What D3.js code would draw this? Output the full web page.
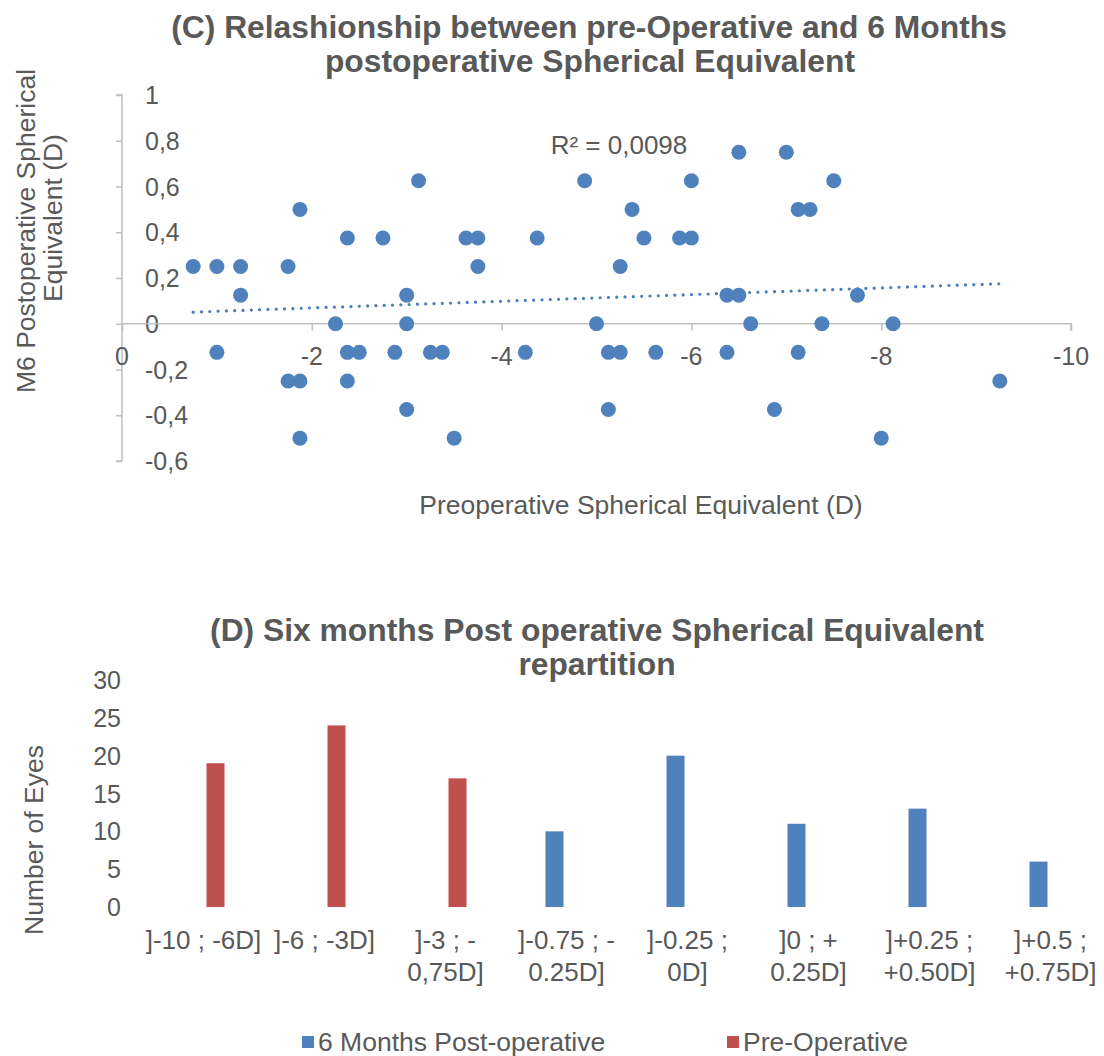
<!DOCTYPE html>
<html>
<head>
<meta charset="utf-8">
<script src="https://cdn.jsdelivr.net/npm/d3@7"></script>
<style>
  html, body { margin: 0; padding: 0; background: #ffffff; }
  svg text { font-family: "Liberation Sans", Arial, Helvetica, sans-serif; fill: #595959; }
</style>
</head>
<body>
<svg id="chart" width="1104" height="1056"></svg>
<script>
// ---------- Data: scatter (C) ----------
const preOpSE = [
  -0.75, -1.0, -1.25, -1.25, -1.75, -1.875, -2.375, -2.75, -3.125, -3.0,
  -2.25, -3.0, -1.0, -2.375, -2.5, -2.875, -3.25, -3.375, -1.75, -1.875,
  -2.375, -3.0, -1.875, -3.5, -3.625, -3.75, -3.75, -4.375, -4.875, -6.0,
  -5.375, -5.5, -5.875, -6.0, -5.25, -6.375, -6.5, -6.5, -5.0, -6.625,
  -4.25, -5.125, -5.25, -5.625, -6.375, -5.125, -6.875, -7.0, -7.5, -7.125,
  -7.25, -7.75, -7.375, -8.125, -7.125, -9.25, -8.0
];
const postOpSE = [
  0.25, 0.25, 0.25, 0.125, 0.25, 0.5, 0.375, 0.375, 0.625, 0.125,
  0, 0, -0.125, -0.125, -0.125, -0.125, -0.125, -0.125, -0.25, -0.25,
  -0.25, -0.375, -0.5, -0.5, 0.375, 0.375, 0.25, 0.375, 0.625, 0.625,
  0.5, 0.375, 0.375, 0.375, 0.25, 0.125, 0.125, 0.75, 0, 0,
  -0.125, -0.125, -0.125, -0.125, -0.125, -0.375, -0.375, 0.75, 0.625, 0.5,
  0.5, 0.125, 0, 0, -0.125, -0.25, -0.5
];
const trendX = [-0.75, -9.25];
const trendY = [0.051, 0.175];
const r2Label = "R² = 0,0098";
const scatterXTicks = [0, -2, -4, -6, -8, -10];
const scatterYTicks = [1, 0.8, 0.6, 0.4, 0.2, 0, -0.2, -0.4, -0.6];

// ---------- Data: bars (D) ----------
const categories = [
  ["]-10 ; -6D]"], ["]-6 ; -3D]"], ["]-3 ; -", "0,75D]"], ["]-0.75 ; -", "0.25D]"],
  ["]-0.25 ;", "0D]"], ["]0 ; +", "0.25D]"], ["]+0.25 ;", "+0.50D]"], ["]+0.5 ;", "+0.75D]"]
];
const seriesNames = ["6 Months Post-operative", "Pre-Operative"];
const postOpCounts = [0, 0, 0, 10, 20, 11, 13, 6];
const preOpCounts = [19, 24, 17, 0, 0, 0, 0, 0];
const barYTicks = [0, 5, 10, 15, 20, 25, 30];

const BLUE = "#4f81bd", RED = "#c0504d", AXIS = "#bfbfbf", TXT = "#595959";
const svg = d3.select("#chart");
const fmtComma = d => String(d).replace(".", ",");

// ================= Chart C =================
const gC = svg.append("g");
gC.append("text").attr("x", 589).attr("y", 38).attr("text-anchor", "middle")
  .attr("font-size", 31.8).attr("font-weight", "bold")
  .text("(C) Relashionship between pre-Operative and 6 Months");
gC.append("text").attr("x", 590).attr("y", 72).attr("text-anchor", "middle")
  .attr("font-size", 31.8).attr("font-weight", "bold")
  .text("postoperative Spherical Equivalent");

const xS = d3.scaleLinear().domain([0, -10]).range([122, 1071]);
const yS = d3.scaleLinear().domain([-0.6, 1]).range([461, 95]);

// y axis line + ticks
const yAxisG = gC.append("g").attr("transform", `translate(${xS(0)},0)`)
  .call(d3.axisLeft(yS).tickValues(scatterYTicks).tickSize(6).tickFormat(""));
yAxisG.select(".domain").attr("stroke", AXIS).attr("stroke-width", 1.5).attr("d", `M-6,${yS(1)}H0V${yS(-0.6)}H-6`);
yAxisG.selectAll(".tick line").attr("stroke", AXIS).attr("stroke-width", 1.5);
// y tick labels (to the right of the axis)
gC.selectAll(".ylab").data(scatterYTicks).enter().append("text")
  .attr("x", 145).attr("y", d => yS(d)).attr("dy", "0.36em")
  .attr("font-size", 25).text(fmtComma);

// x axis line + ticks at y=0
const xAxisG = gC.append("g").attr("transform", `translate(0,${yS(0)})`)
  .call(d3.axisBottom(xS).tickValues(scatterXTicks).tickSize(7).tickFormat(""));
xAxisG.select(".domain").attr("stroke", AXIS).attr("stroke-width", 1.5).attr("d", `M${xS(0)},0H${xS(-10)}V7`);
xAxisG.selectAll(".tick line").attr("stroke", AXIS).attr("stroke-width", 1.5);
gC.selectAll(".xlab").data(scatterXTicks).enter().append("text")
  .attr("x", d => xS(d)).attr("y", 356).attr("dy", "0.36em").attr("text-anchor", "middle")
  .attr("font-size", 25).text(d => String(d));

// trendline
gC.append("line")
  .attr("x1", xS(trendX[0])).attr("y1", yS(trendY[0]))
  .attr("x2", xS(trendX[1])).attr("y2", yS(trendY[1]))
  .attr("stroke", "#4a7ebb").attr("stroke-width", 3.2)
  .attr("stroke-linecap", "round").attr("stroke-dasharray", "0.01 8.3");

// points
gC.selectAll(".pt").data(preOpSE.map((x, i) => [x, postOpSE[i]])).enter().append("circle")
  .attr("cx", d => xS(d[0])).attr("cy", d => yS(d[1])).attr("r", 7.5).attr("fill", BLUE);

gC.append("text").attr("x", 619).attr("y", 154).attr("text-anchor", "middle")
  .attr("font-size", 26).text(r2Label);

gC.append("text").attr("x", 641).attr("y", 514).attr("text-anchor", "middle")
  .attr("font-size", 26.5).text("Preoperative Spherical Equivalent (D)");
gC.append("text").attr("transform", "translate(35,231) rotate(-90)").attr("text-anchor", "middle")
  .attr("font-size", 26.5).text("M6 Postoperative Spherical");
gC.append("text").attr("transform", "translate(62,218) rotate(-90)").attr("text-anchor", "middle")
  .attr("font-size", 26.5).text("Equivalent (D)");

// ================= Chart D =================
const gD = svg.append("g");
gD.append("text").attr("x", 597).attr("y", 641).attr("text-anchor", "middle")
  .attr("font-size", 31.8).attr("font-weight", "bold")
  .text("(D) Six months Post operative Spherical Equivalent");
gD.append("text").attr("x", 597).attr("y", 675).attr("text-anchor", "middle")
  .attr("font-size", 31.8).attr("font-weight", "bold").text("repartition");

const x0 = d3.scaleBand().domain(d3.range(categories.length)).range([143, 1111]).paddingInner(0).paddingOuter(0);
const x1 = d3.scaleBand().domain(seriesNames).range([0, x0.bandwidth()]).paddingInner(0.25).paddingOuter(1.646);
const yB = d3.scaleLinear().domain([0, 30]).range([907, 680]);

gD.selectAll(".bylab").data(barYTicks).enter().append("text")
  .attr("x", 121).attr("y", d => yB(d)).attr("dy", "0.36em").attr("text-anchor", "end")
  .attr("font-size", 25).text(d => d);

const seriesData = [postOpCounts, preOpCounts];
const colors = [BLUE, RED];
seriesNames.forEach((name, si) => {
  gD.selectAll(".bar" + si).data(seriesData[si]).enter().append("rect")
    .attr("x", (d, i) => x0(i) + x1(name))
    .attr("y", d => yB(d))
    .attr("width", x1.bandwidth())
    .attr("height", d => yB(0) - yB(d))
    .attr("fill", colors[si]);
});

categories.forEach((lines, i) => {
  const cx = x0(i) + x0.bandwidth() / 2;
  lines.forEach((ln, li) => {
    gD.append("text").attr("x", cx).attr("y", 949 + li * 32).attr("text-anchor", "middle")
      .attr("font-size", 26).text(ln);
  });
});

gD.append("text").attr("transform", "translate(43,840) rotate(-90)").attr("text-anchor", "middle")
  .attr("font-size", 26.5).text("Number of Eyes");

// legend
const legendX = [302, 727];
seriesNames.forEach((name, si) => {
  gD.append("rect").attr("x", legendX[si]).attr("y", 1036).attr("width", 12).attr("height", 12).attr("fill", colors[si]);
  gD.append("text").attr("x", legendX[si] + 16).attr("y", 1051).attr("font-size", 26.5).text(name);
});
</script>
</body>
</html>
